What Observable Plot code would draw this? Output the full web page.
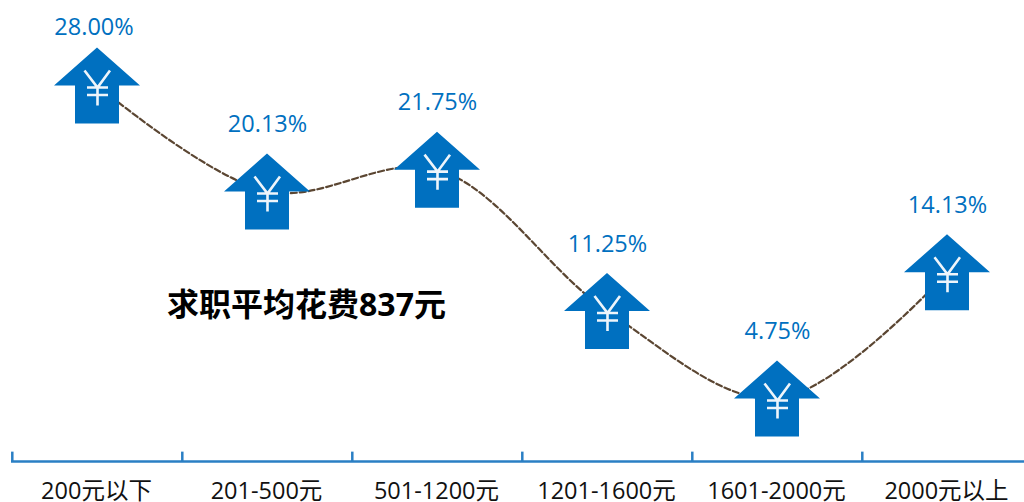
<!DOCTYPE html>
<html><head><meta charset="utf-8">
<script src="https://cdn.jsdelivr.net/npm/d3@7"></script>
<script src="https://cdn.jsdelivr.net/npm/@observablehq/plot@0.6"></script>
<style>html,body{margin:0;padding:0;background:#fff;overflow:hidden}svg{display:block}</style>
</head><body><div id="chart"></div>
<script>
const categories = ["200元以下","201-500元","501-1200元","1201-1600元","1601-2000元","2000元以上"];
const shares = [28.00,20.13,21.75,11.25,4.75,14.13];
const labels = ["28.00%","20.13%","21.75%","11.25%","4.75%","14.13%"];
const headline = ["求职平均花费837元"];
const rows = categories.map((c,i)=>({c, v:shares[i], t:labels[i]}));
const floorValue = -2.82, tickTop = -2.05;

const arrow = {draw(p){
  p.moveTo(-0.5,0); p.lineTo(42.5,38); p.lineTo(21.5,38); p.lineTo(21.5,76);
  p.lineTo(-22.5,76); p.lineTo(-22.5,38); p.lineTo(-43.5,38); p.closePath();
}};
const yen = {draw(p){
  p.moveTo(-13,23); p.lineTo(0,40); p.lineTo(12.5,23);
  p.moveTo(0,40); p.lineTo(0,58);
  p.moveTo(-10.5,40); p.lineTo(10.5,40);
  p.moveTo(-10.5,47.5); p.lineTo(10.5,47.5);
}};
const cjk = '"Open Sans","Noto Sans CJK SC",sans-serif';
const blue = "#0070c0";

const chart = Plot.plot({
  width:1024, height:502, marginLeft:11, marginRight:0, marginTop:0, marginBottom:40,
  style:{fontFamily:cjk, background:"#fff"},
  x:{type:"band", domain:categories, range:[11,1033], padding:0, label:null},
  y:{domain:[floorValue,31.49], range:[462,0], axis:null},
  marks:[
    Plot.ruleY([floorValue],{stroke:"#2a7fc4",strokeWidth:2.5,dy:-1}),
    Plot.ruleX(categories,{x:d=>d,y1:floorValue,y2:tickTop,dx:-85.2,stroke:"#2a7fc4",strokeWidth:2.5}),
    Plot.axisX({tickSize:0,tickPadding:20,dx:-1,fontSize:23.5,label:null,fill:"#111",lineHeight:1}),
    Plot.line(rows,{x:"c",y:"v",dy:38,curve:"catmull-rom",stroke:"#5b4632",strokeWidth:2.2,strokeDasharray:"6 3"}),
    Plot.dot(rows,{x:"c",y:"v",symbol:arrow,fill:blue,stroke:"none",r:10}),
    Plot.dot(rows,{x:"c",y:"v",symbol:yen,fill:"none",stroke:"#eef5fb",strokeWidth:2.6,r:10}),
    Plot.text(rows.slice(0,1),{x:"c",y:"v",text:"t",dy:-20,dx:-3.5,fill:blue,fontSize:23.5}),
    Plot.text(rows.slice(1),{x:"c",y:"v",text:"t",dy:-29,fill:blue,fontSize:23.5}),
    Plot.text(headline,{text:d=>d,frameAnchor:"top-left",dx:295,dy:305,textAnchor:"middle",lineAnchor:"middle",fontSize:32,fontWeight:"bold",fill:"#000"})
  ]
});
document.getElementById("chart").append(chart);
</script></body></html>
